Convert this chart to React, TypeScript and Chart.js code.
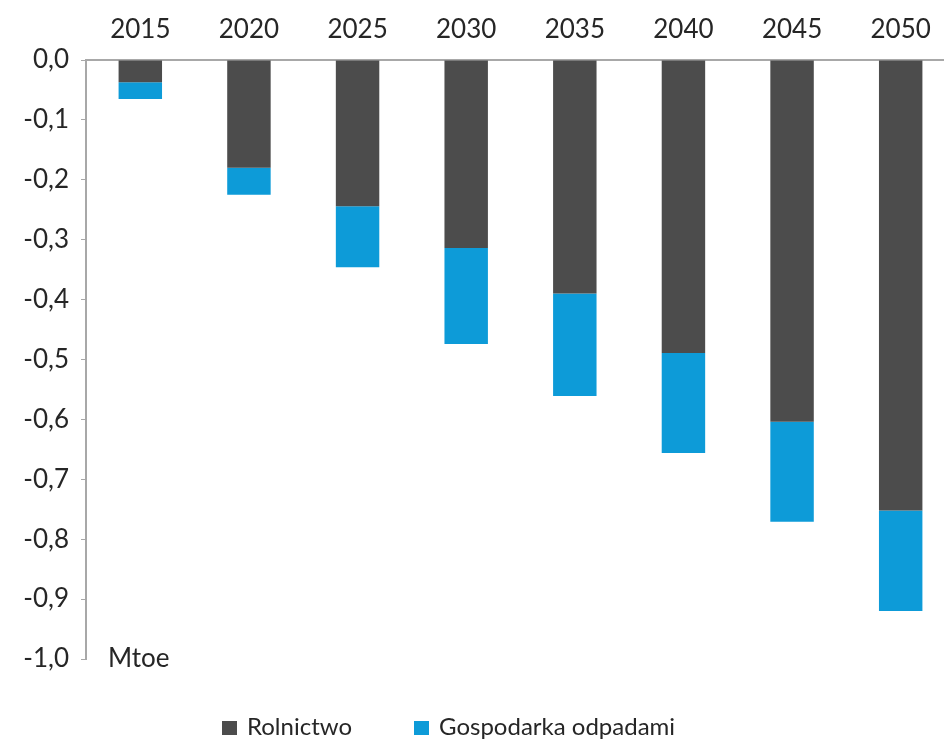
import React, { useEffect, useRef } from "react";
import { Chart, registerables } from "chart.js";

Chart.register(...registerables);

const categories = ["2015", "2020", "2025", "2030", "2035", "2040", "2045", "2050"];
const rolnictwo = [-0.037, -0.18, -0.244, -0.314, -0.39, -0.489, -0.604, -0.752];
const gospodarka = [-0.028, -0.045, -0.102, -0.16, -0.171, -0.167, -0.167, -0.168];
const seriesNames = ["Rolnictwo", "Gospodarka odpadami"];
const unitLabel = "Mtoe";

const GREY = "#4c4c4c";
const BLUE = "#0d9bd8";
const FONT = "Lato, 'Open Sans', sans-serif";
const TEXT = "#262626";

export default function App() {
  const ref = useRef<HTMLCanvasElement | null>(null);

  useEffect(() => {
    if (!ref.current) return;
    const unitPlugin = {
      id: "unitLabel",
      afterDraw(chart: any) {
        const { ctx, chartArea, scales } = chart;
        ctx.save();
        ctx.font = `26px ${FONT}`;
        ctx.fillStyle = TEXT;
        ctx.textAlign = "left";
        ctx.textBaseline = "middle";
        ctx.fillText(unitLabel, chartArea.left + 22, scales.y.getPixelForValue(-1));
        ctx.restore();
      },
    };
    const chart = new Chart(ref.current, {
      type: "bar",
      data: {
        labels: categories,
        datasets: [
          { label: seriesNames[0], data: rolnictwo, backgroundColor: GREY, barPercentage: 0.4, categoryPercentage: 1 },
          { label: seriesNames[1], data: gospodarka, backgroundColor: BLUE, barPercentage: 0.4, categoryPercentage: 1 },
        ],
      },
      options: {
        animation: false,
        responsive: false,
        maintainAspectRatio: false,
        layout: { padding: { left: 0, right: 5, top: 0, bottom: 86 } },
        plugins: { legend: { display: false }, tooltip: { enabled: false } },
        scales: {
          x: {
            position: "top",
            stacked: true,
            grid: { display: false, drawTicks: false },
            border: { display: true, color: "#a8a8a8", width: 2 },
            ticks: { color: TEXT, font: { family: FONT, size: 26 }, padding: 15, maxRotation: 0 },
            afterFit: (s: any) => { s.height = 60; },
          },
          y: {
            stacked: true,
            min: -1,
            max: 0,
            grid: { display: true, drawOnChartArea: false, drawTicks: true, tickLength: 5, color: "#a8a8a8" },
            border: { display: true, color: "#a8a8a8", width: 2 },
            ticks: {
              stepSize: 0.1,
              color: TEXT,
              font: { family: FONT, size: 26 },
              padding: 12,
              callback: (v: any) => {
                const n = Math.abs(Number(v)) < 1e-9 ? 0 : Number(v);
                return n.toFixed(1).replace(".", ",");
              },
            },
            afterFit: (s: any) => { s.width = 86; },
          },
        },
      },
      plugins: [unitPlugin],
    });
    return () => chart.destroy();
  }, []);

  const legendItem = (left: number, color: string, label: string) => (
    <div style={{ position: "absolute", left, top: 711, display: "flex", alignItems: "center", fontFamily: FONT, fontSize: 24, color: TEXT, whiteSpace: "nowrap", lineHeight: "29px" }}>
      <span style={{ display: "inline-block", width: 15, height: 14, background: color, marginRight: 10, marginTop: 5 }} />
      <span>{label}</span>
    </div>
  );

  return (
    <div style={{ position: "absolute", left: 0, top: 0, width: 944, height: 745, overflow: "hidden", background: "#fff" }}>
      <canvas ref={ref} width={960} height={745} style={{ position: "absolute", left: 0, top: 0, width: 960, height: 745 }} />
      {legendItem(222, GREY, seriesNames[0])}
      {legendItem(414, BLUE, seriesNames[1])}
    </div>
  );
}
